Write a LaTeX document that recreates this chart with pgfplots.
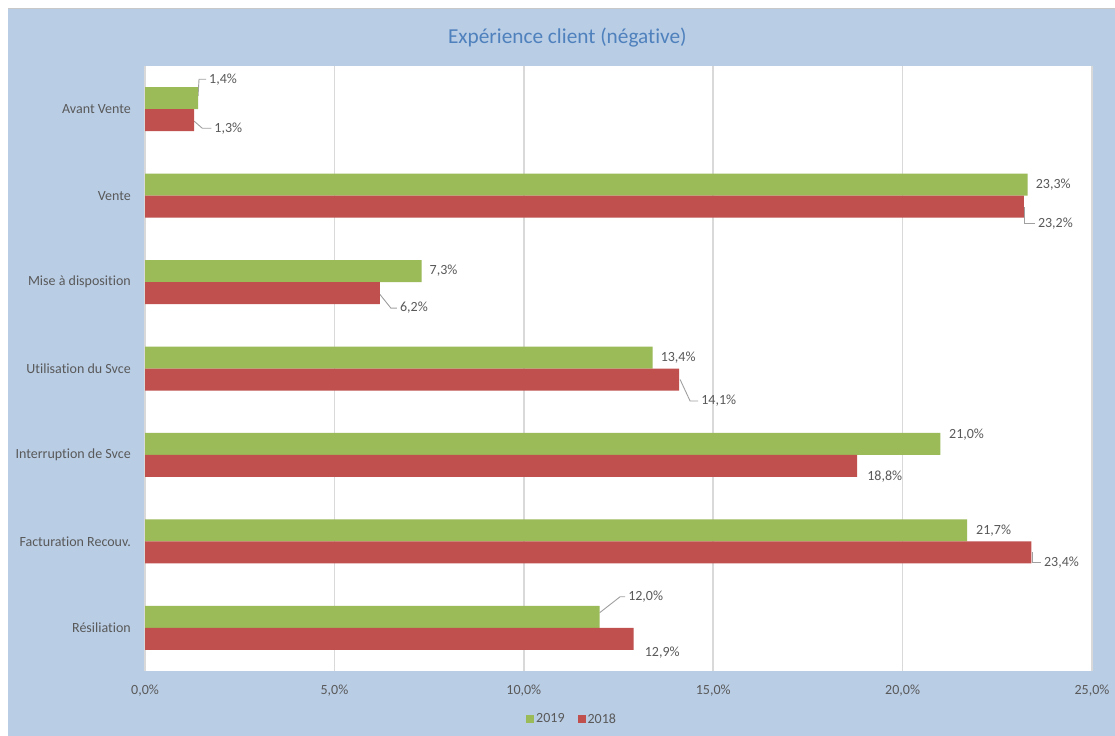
\documentclass[border=0pt]{standalone}
\usepackage{fontspec}
\setmainfont{Carlito}[Ligatures=NoCommon]
\usepackage{pgfplots}
\pgfplotsset{compat=1.18}
\usepackage{pgfplotstable}

\definecolor{bgblue}{RGB}{185,205,229}
\definecolor{green19}{RGB}{155,187,89}
\definecolor{red18}{RGB}{192,80,77}
\definecolor{txt}{RGB}{89,89,89}
\definecolor{ttl}{RGB}{79,129,189}
\definecolor{gridc}{RGB}{217,217,217}
\definecolor{leadc}{RGB}{160,160,160}
\definecolor{topline}{RGB}{200,200,200}

\newcommand\lblfont{\fontsize{14bp}{16bp}\selectfont}
\newcommand\ttlfont{\fontsize{21.3bp}{24bp}\selectfont}

% values, with the offset (bp) of each value label from the end of its
% bar, measured from the centre line of the category
\pgfplotstableread{
pos val dx dy
0 1.4 11 30
1 23.3 8 11
2 7.3 8 11
3 13.4 8 11
4 21.0 8.5 20
5 21.7 9 11
6 12.0 28.5 31
}\tabA

\pgfplotstableread{
pos val dx dy
0 1.3 20 -19
1 23.2 14 -28
2 6.2 20 -26
3 14.1 22 -32.5
4 18.8 10 -22
5 23.4 12.5 -21.5
6 12.9 11 -25
}\tabB

\pgfplotsset{
  barlabels/.style={
    point meta=x,
    nodes near coords={\pgfmathprintnumber[fixed,fixed zerofill,precision=1,use comma]{\pgfplotspointmeta}\%},
    visualization depends on={\thisrow{dx} \as \ldx},
    visualization depends on={\thisrow{dy} \as \ldy},
    every node near coord/.append style={anchor=west, inner sep=0pt, font=\lblfont, text=txt,
      xshift=\ldx bp, yshift=\ldy bp},
  },
  leader/.style={sharp plot, no markers, draw=leadc, line width=0.9bp, forget plot},
}

\begin{document}
\begin{tikzpicture}
\useasboundingbox (0,0) rectangle (1115bp,736bp);
\fill[white] (0,0) rectangle (1115bp,736bp);
\fill[bgblue] (8bp,0) rectangle (1115bp,727bp);
\draw[line width=1bp, draw=topline] (8bp,727bp) -- (1115bp,727bp);
\begin{axis}[
  at={(145bp,65bp)}, anchor=south west,
  scale only axis, width=947bp, height=605bp,
  bar width=22bp,
  xmin=0, xmax=25, ymin=-0.5, ymax=6.5, y dir=reverse,
  axis background/.style={fill=white},
  axis line style={draw=none},
  major tick length=0pt,
  /pgf/number format/assume math mode=true,
  xtick={0,5,...,25},
  xticklabels={{0,0\%},{5,0\%},{10,0\%},{15,0\%},{20,0\%},{25,0\%}},
  ytick={0,...,6},
  yticklabels={Avant Vente,Vente,Mise à disposition,Utilisation du Svce,Interruption de Svce,Facturation Recouv.,Résiliation},
  xmajorgrids,
  major grid style={draw=gridc, line width=1.6bp},
  ticklabel style={font=\lblfont, text=txt},
  yticklabel style={inner sep=0pt, anchor=east, xshift=-14bp},
  xticklabel style={inner sep=0pt, anchor=north, yshift=-14bp},
  title={Expérience client (négative)},
  every axis title shift=0pt,
  title style={at={(0.446,1.0463)}, anchor=center, font=\ttlfont, text=ttl, inner sep=0pt},
  legend columns=-1,
  legend style={draw=none, fill=none, at={(0.451,-0.0793)}, anchor=center,
    font=\lblfont, text=txt, inner sep=0pt,
    nodes={inner sep=2bp},
    /tikz/every even column/.append style={column sep=11bp}},
  legend image code/.code={\fill[#1] (0bp,-4bp) rectangle (8bp,4bp);},
]
% leader lines from moved labels back to their bars
\addplot[leader] coordinates {(1.611,-0.3471) (1.426,-0.3471) (1.400,-0.1504)};
\addplot[leader] coordinates {(12.673,5.6413) (12.541,5.6413) (12.000,5.8264)};
\addplot[leader] coordinates {(1.749,0.2199) (1.511,0.2199) (1.300,0.1389)};
\addplot[leader] coordinates {(23.490,1.3240) (23.226,1.3240) (23.226,1.1273)};
\addplot[leader] coordinates {(6.649,2.3009) (6.490,2.3009) (6.174,2.1273)};
\addplot[leader] coordinates {(14.602,3.3761) (14.390,3.3761) (14.126,3.1273)};
\addplot[leader] coordinates {(23.651,5.2488) (23.440,5.2488) (23.440,5.1273)};
% bars
\addplot[xbar, bar shift=11bp, fill=green19, draw=none, barlabels] table[x=val, y=pos] {\tabA};
\addlegendentry{2019}
\addplot[xbar, bar shift=-11bp, fill=red18, draw=none, barlabels] table[x=val, y=pos] {\tabB};
\addlegendentry{2018}
\end{axis}
\end{tikzpicture}
\end{document}
